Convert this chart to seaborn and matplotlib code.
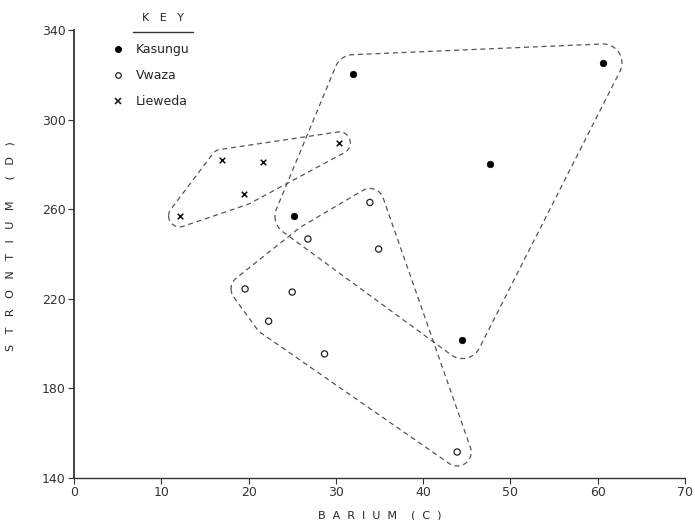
import numpy as np
import pandas as pd
import matplotlib
matplotlib.use('Agg')
import matplotlib.pyplot as plt
import seaborn as sns
from matplotlib.lines import Line2D

# ---- data (barium vs strontium) ----
kasungu_ba = [32.0, 60.6, 47.7, 25.2, 44.5]
kasungu_sr = [320.5, 325.3, 280.4, 256.8, 201.8]
vwaza_ba = [33.9, 26.8, 34.9, 19.6, 25.0, 22.3, 28.7, 43.9]
vwaza_sr = [263.0, 246.7, 242.2, 224.4, 223.0, 210.0, 195.4, 151.6]
lieweda_ba = [12.1, 16.9, 21.7, 19.5, 30.4]
lieweda_sr = [257.0, 281.8, 281.0, 266.8, 289.6]
x_ticks = [0, 10, 20, 30, 40, 50, 60, 70]
y_ticks = [140, 180, 220, 260, 300, 340]

df = pd.concat([
    pd.DataFrame({'Barium': kasungu_ba, 'Strontium': kasungu_sr, 'Site': 'Kasungu'}),
    pd.DataFrame({'Barium': vwaza_ba, 'Strontium': vwaza_sr, 'Site': 'Vwaza'}),
    pd.DataFrame({'Barium': lieweda_ba, 'Strontium': lieweda_sr, 'Site': 'Lieweda'}),
], ignore_index=True)

sns.set_theme(style='ticks', rc={
    'axes.spines.top': False,
    'axes.spines.right': False,
    'axes.edgecolor': '#333333',
    'xtick.color': '#333333',
    'ytick.color': '#333333',
})
plt.rcParams['font.family'] = ['DejaVu Sans']

W, H = 695, 520
left, right, top, bottom = 74, 685, 30, 478
fig = plt.figure(figsize=(6.95, 5.2), dpi=100)
ax = fig.add_axes([left / W, (H - bottom) / H, (right - left) / W, (bottom - top) / H])
ax.set_xlim(0, 70)
ax.set_ylim(140, 340)

# pixels per data unit, used to pad the group outlines evenly on screen
kx = (right - left) / 70
ky = (bottom - top) / 200


def convex_hull(p):
    p = sorted(map(tuple, p))
    def cross(o, a, b):
        return (a[0] - o[0]) * (b[1] - o[1]) - (a[1] - o[1]) * (b[0] - o[0])
    lower, upper = [], []
    for q in p:
        while len(lower) >= 2 and cross(lower[-2], lower[-1], q) <= 0:
            lower.pop()
        lower.append(q)
    for q in reversed(p):
        while len(upper) >= 2 and cross(upper[-2], upper[-1], q) <= 0:
            upper.pop()
        upper.append(q)
    return np.array(lower[:-1] + upper[:-1])


def envelope(xs, ys, pad):
    pts = np.column_stack([np.asarray(xs) * kx, np.asarray(ys) * ky])
    ang = np.linspace(0, 2 * np.pi, 60, endpoint=False)
    circ = np.column_stack([np.cos(ang), np.sin(ang)]) * pad
    cloud = (pts[:, None, :] + circ[None, :, :]).reshape(-1, 2)
    h = convex_hull(cloud)
    h = np.vstack([h, h[:1]])
    return h[:, 0] / kx, h[:, 1] / ky


dash = dict(color='#555555', linewidth=0.9, linestyle=(0, (4, 3)))
for xs, ys, pad in [(kasungu_ba, kasungu_sr, 19), (vwaza_ba, vwaza_sr, 14),
                    (lieweda_ba, lieweda_sr, 11)]:
    ex, ey = envelope(xs, ys, pad)
    ax.plot(ex, ey, **dash)

sns.scatterplot(data=df[df.Site == 'Kasungu'], x='Barium', y='Strontium', ax=ax,
                marker='o', s=22, color='black', edgecolor='black', linewidth=0.5)
sns.scatterplot(data=df[df.Site == 'Vwaza'], x='Barium', y='Strontium', ax=ax,
                marker='o', s=20, facecolor='none', edgecolor='#222222', linewidth=0.9)
sns.scatterplot(data=df[df.Site == 'Lieweda'], x='Barium', y='Strontium', ax=ax,
                marker='x', s=16, color='#111111', linewidth=1.1)

ax.set_xticks(x_ticks)
ax.set_yticks(y_ticks)
ax.tick_params(axis='both', labelsize=9, length=4, width=0.8, pad=2)
ax.spines['left'].set_linewidth(1.3)
ax.spines['bottom'].set_linewidth(1.0)

ax.set_xlabel('B  A  R  I  U  M    (  C  )', fontsize=8, labelpad=8)
ax.set_ylabel('S   T   R   O   N   T   I   U   M      (   D   )', fontsize=8)
ax.yaxis.set_label_coords((16 - left) / (right - left), (bottom - 246) / (bottom - top))

# key
handles = [
    Line2D([], [], marker='o', ls='none', color='black', markersize=4),
    Line2D([], [], marker='o', ls='none', markerfacecolor='none',
           markeredgecolor='#222222', markersize=4, markeredgewidth=0.9),
    Line2D([], [], marker='x', ls='none', color='#111111', markersize=4, markeredgewidth=1.1),
]
ax.legend(handles, ['Kasungu', 'Vwaza', 'Lieweda'], loc='upper left',
          bbox_to_anchor=(112 / W, 1 - 43 / H), bbox_transform=fig.transFigure,
          frameon=False, fontsize=9, handlelength=1.0, handletextpad=0.9,
          labelspacing=1.05, borderpad=0, borderaxespad=0)
fig.text(163 / W, 1 - 18 / H, 'K   E   Y', fontsize=8, ha='center', va='center')
fig.add_artist(Line2D([133 / W, 193 / W], [1 - 32 / H, 1 - 32 / H],
                      transform=fig.transFigure, color='#333333', linewidth=1.0))

fig.savefig('out.png', dpi=100)
